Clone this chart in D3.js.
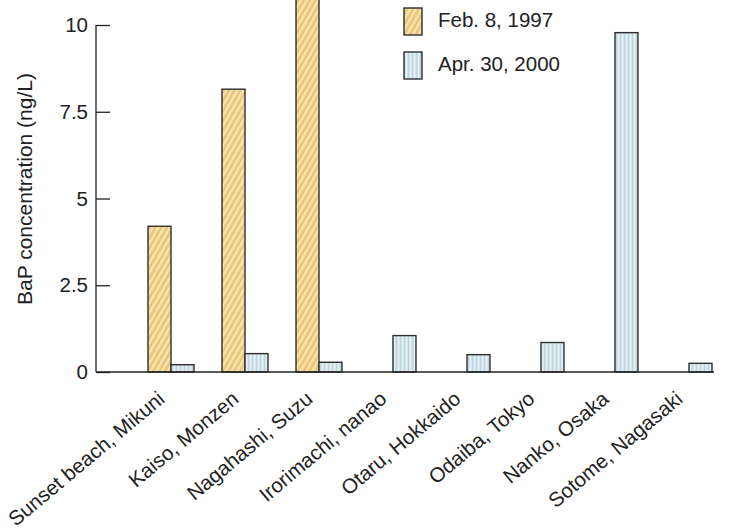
<!DOCTYPE html>
<html>
<head>
<meta charset="utf-8">
<script src="https://cdn.jsdelivr.net/npm/d3@7"></script>
<style>
  html, body { margin: 0; padding: 0; background: #fff; }
  svg { display: block; font-family: "Liberation Sans", Arial, Helvetica, sans-serif; }
</style>
</head>
<body>
<svg id="chart" width="754" height="532"></svg>
<script>
// Sampling sites along the x axis
const sites = [
  "Sunset beach, Mikuni", "Kaiso, Monzen", "Nagahashi, Suzu", "Irorimachi, nanao",
  "Otaru, Hokkaido", "Odaiba, Tokyo", "Nanko, Osaka", "Sotome, Nagasaki"
];
// Survey dates (legend entries)
const surveys = ["Feb. 8, 1997", "Apr. 30, 2000"];
// BaP concentration (ng/L) per site; null = not sampled
const feb1997 = [4.2, 8.15, 11.2, null, null, null, null, null];
const apr2000 = [0.21, 0.53, 0.28, 1.05, 0.5, 0.85, 9.78, 0.25];
// Y axis ticks
const yTicks = [0, 2.5, 5, 7.5, 10];

const svg = d3.select("#chart");
const FS = 20.5;

// Patterned fills for the two surveys
const defs = svg.append("defs");
const pOr = defs.append("pattern")
  .attr("id", "hatchOrange").attr("patternUnits", "userSpaceOnUse")
  .attr("width", 5).attr("height", 5)
  .attr("patternTransform", "rotate(30)");
pOr.append("rect").attr("width", 5).attr("height", 5).attr("fill", "#efcf86");
pOr.append("rect").attr("x", 0).attr("width", 1.6).attr("height", 5).attr("fill", "#f9e8ba");
pOr.append("rect").attr("x", 3).attr("width", 0.8).attr("height", 5).attr("fill", "#e2bd6c");

const pBl = defs.append("pattern")
  .attr("id", "stripeBlue").attr("patternUnits", "userSpaceOnUse")
  .attr("width", 4).attr("height", 4);
pBl.append("rect").attr("width", 4).attr("height", 4).attr("fill", "#d3e5ea");
pBl.append("rect").attr("x", 0).attr("width", 1).attr("height", 4).attr("fill", "#bcd4db");
pBl.append("rect").attr("x", 2).attr("width", 1).attr("height", 4).attr("fill", "#e8f2f4");

const fills = ["url(#hatchOrange)", "url(#stripeBlue)"];

// Scales
const axisX = 96;
const x = d3.scaleBand().domain(sites).range([134, 726]).padding(0);
const xs = d3.scaleBand().domain(surveys).range([0, x.bandwidth()]).paddingInner(0).paddingOuter(0.61);
const y = d3.scaleLinear().domain([0, 10]).range([372, 25]);

const series = [feb1997, apr2000];

// Bars
const g = svg.append("g");
series.forEach((vals, si) => {
  g.selectAll(null)
    .data(sites.map((s, i) => ({ site: s, v: vals[i] })).filter(d => d.v != null))
    .join("rect")
    .attr("x", d => x(d.site) + xs(surveys[si]))
    .attr("y", d => y(d.v))
    .attr("width", xs.bandwidth())
    .attr("height", d => y(0) - y(d.v))
    .attr("fill", fills[si])
    .attr("stroke", "#2e2e2e")
    .attr("stroke-width", 1.4);
});

// Y axis with inward ticks
const yAxis = d3.axisLeft(y).tickValues(yTicks).tickSize(-14).tickPadding(8)
  .tickFormat(d => d3.format("~g")(d));
const ya = svg.append("g").attr("transform", `translate(${axisX},0)`).call(yAxis);
ya.select(".domain").attr("d", `M0,${y(10)}V${y(0)}`).attr("stroke", "#222").attr("stroke-width", 1.3);
ya.selectAll(".tick line").attr("stroke", "#222").attr("stroke-width", 1.3);
ya.selectAll(".tick text").attr("font-size", FS).attr("fill", "#222")
  .attr("font-family", "Liberation Sans, Arial, sans-serif");

// Baseline
svg.append("line")
  .attr("x1", axisX).attr("x2", 714)
  .attr("y1", y(0)).attr("y2", y(0))
  .attr("stroke", "#222").attr("stroke-width", 1.3);

// Site labels, rotated
svg.append("g").selectAll("text")
  .data(sites)
  .join("text")
  .attr("transform", d => `translate(${x(d) + x.bandwidth() / 2 - 5},${401}) rotate(-40)`)
  .attr("text-anchor", "end")
  .attr("font-size", FS)
  .attr("fill", "#222")
  .text(d => d);

// Y axis title
svg.append("text")
  .attr("transform", `translate(32,${189}) rotate(-90)`)
  .attr("text-anchor", "middle")
  .attr("font-size", 21)
  .attr("fill", "#222")
  .text("BaP concentration (ng/L)");

// Legend
const leg = svg.append("g").attr("transform", "translate(404,8)");
surveys.forEach((s, i) => {
  const row = leg.append("g").attr("transform", `translate(0,${i * 44})`);
  row.append("rect").attr("width", 18).attr("height", 27)
    .attr("fill", fills[i]).attr("stroke", "#2e2e2e").attr("stroke-width", 1.4);
  row.append("text").attr("x", 34).attr("y", 18.5)
    .attr("font-size", FS).attr("fill", "#222").text(s);
});
</script>
</body>
</html>
